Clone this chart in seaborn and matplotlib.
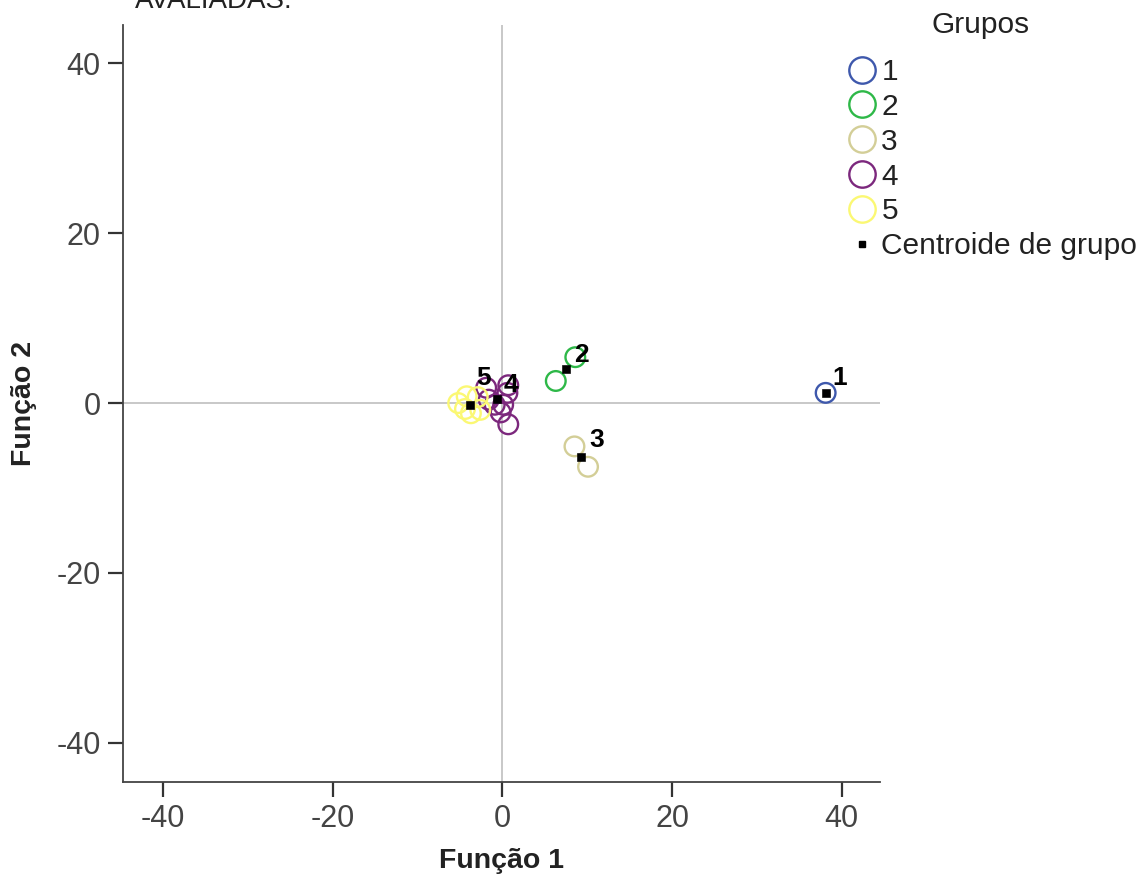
import matplotlib
matplotlib.use("Agg")
import matplotlib.pyplot as plt
from matplotlib.lines import Line2D
import seaborn as sns
import pandas as pd

# Discriminant scores per case (Função 1, Função 2) by group
grupo_1_f1 = [38.1]
grupo_1_f2 = [1.2]
grupo_2_f1 = [6.3, 8.6]
grupo_2_f2 = [2.6, 5.4]
grupo_3_f1 = [8.5, 10.1]
grupo_3_f2 = [-5.1, -7.5]
grupo_4_f1 = [-1.9, 0.7, 0.6, -0.9, 0.1, -0.2, 0.7, -1.6]
grupo_4_f2 = [1.8, 2.1, 1.2, -0.2, -0.2, -1.1, -2.5, 0.4]
grupo_5_f1 = [-5.2, -4.2, -2.9, -3.7, -2.6, -4.4]
grupo_5_f2 = [0.0, 0.8, 0.7, -1.2, -0.8, -0.7]

# Group centroids
centroide_grupo = ["1", "2", "3", "4", "5"]
centroide_f1 = [38.1, 7.5, 9.3, -0.6, -3.8]
centroide_f2 = [1.2, 4.0, -6.3, 0.5, -0.2]

grupos = ["1", "2", "3", "4", "5"]
cores = ["#3E58AC", "#2EB848", "#D3CE97", "#7C287D", "#FBF873"]

ticks = [-40, -20, 0, 20, 40]

frames = []
for g, f1, f2 in zip(grupos,
                     [grupo_1_f1, grupo_2_f1, grupo_3_f1, grupo_4_f1, grupo_5_f1],
                     [grupo_1_f2, grupo_2_f2, grupo_3_f2, grupo_4_f2, grupo_5_f2]):
    frames.append(pd.DataFrame({"Função 1": f1, "Função 2": f2, "Grupos": g}))
casos = pd.concat(frames, ignore_index=True)
centroides = pd.DataFrame({"Função 1": centroide_f1, "Função 2": centroide_f2,
                           "Grupos": centroide_grupo})

sns.set_style("white")
plt.rcParams["font.family"] = ["Liberation Sans", "DejaVu Sans"]

fig = plt.figure(figsize=(11.44, 8.83), dpi=100)
ax = fig.add_axes([0.1075, 0.1144, 0.6617, 0.8573])

ax.axhline(0, color="#C8C8C8", lw=1.4, zorder=0)
ax.axvline(0, color="#C8C8C8", lw=1.4, zorder=0)

palette = dict(zip(grupos, cores))
for g in grupos:
    sub = casos[casos["Grupos"] == g]
    sns.scatterplot(data=sub, x="Função 1", y="Função 2", ax=ax,
                    color=palette[g], facecolor="none", edgecolor=palette[g],
                    linewidth=1.7, s=200, legend=False, zorder=2)

sns.scatterplot(data=centroides, x="Função 1", y="Função 2", ax=ax,
                marker="s", color="black", edgecolor="black", s=30,
                legend=False, zorder=3)

# label offsets (points) from each centroid
offsets = {"1": (10, 11), "2": (11, 10), "3": (11, 12), "4": (10, 10), "5": (10, 19)}
for g, x, y in zip(centroide_grupo, centroide_f1, centroide_f2):
    ax.annotate(g, (x, y), xytext=offsets[g], textcoords="offset points",
                fontsize=19, fontweight="bold", color="black",
                ha="center", va="center", zorder=4)

ax.set_xlim(-44.7, 44.5)
ax.set_ylim(-44.6, 44.5)
ax.set_xticks(ticks)
ax.set_yticks(ticks)
ax.set_xticklabels([str(t) for t in ticks])
ax.set_yticklabels([str(t) for t in ticks])
ax.tick_params(axis="both", direction="out", length=11, width=1.6,
               color="#333333", labelsize=22, labelcolor="#444444", pad=5)
ax.tick_params(axis="x", bottom=True)
ax.tick_params(axis="y", left=True)

for side in ["top", "right"]:
    ax.spines[side].set_visible(False)
for side in ["left", "bottom"]:
    ax.spines[side].set_color("#444444")
    ax.spines[side].set_linewidth(1.3)

ax.set_xlabel("Função 1", fontsize=20.5, fontweight="bold", labelpad=10,
              color="#222222")
ax.set_ylabel("Função 2", fontsize=20.5, fontweight="bold", labelpad=14,
              color="#222222")

handles = [Line2D([], [], marker="o", linestyle="none", markersize=19,
                  markerfacecolor="none", markeredgecolor=c, markeredgewidth=1.7,
                  label=g) for g, c in zip(grupos, cores)]
handles.append(Line2D([], [], marker="s", linestyle="none", markersize=5,
                      color="black", label="Centroide de grupo"))
leg = fig.legend(handles=handles, loc="upper left",
                 bbox_to_anchor=(0.7404, 0.9343), frameon=False, fontsize=21.5,
                 handlelength=1.0, handletextpad=0.15, labelspacing=0.23,
                 borderpad=0, borderaxespad=0)
for t in leg.get_texts():
    t.set_color("#222222")

fig.text(0.8575, 0.9717, "Grupos", fontsize=21.5, color="#222222",
         ha="center", va="center")

fig.text(0.118, 0.991, "AVALIADAS:", fontsize=20, color="#222222",
         ha="left", va="baseline")

fig.savefig("out.png", dpi=100, facecolor="white")
